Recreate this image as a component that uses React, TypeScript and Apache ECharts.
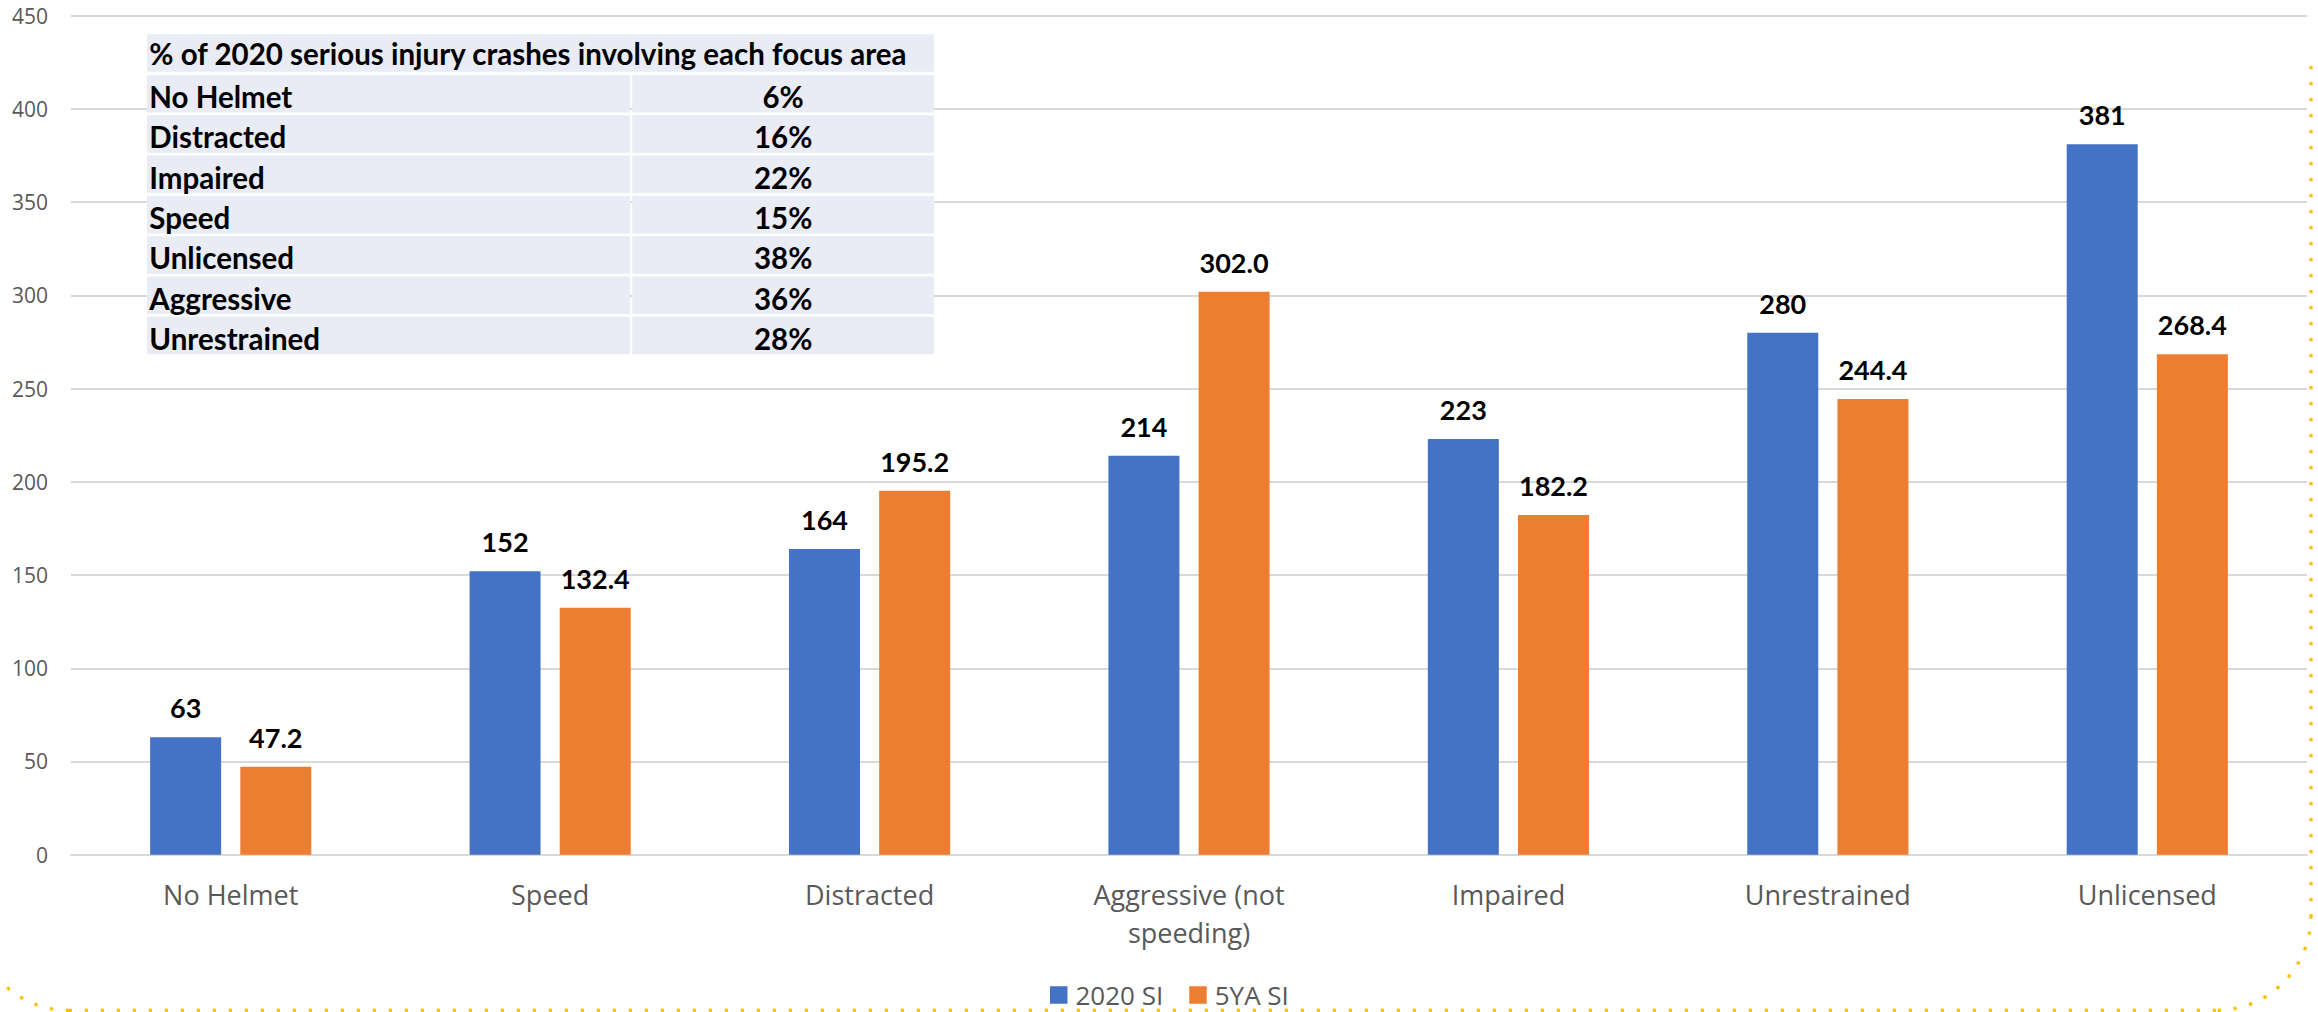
import React, { useEffect, useRef } from "react";
import * as echarts from "echarts";

// ---- data ----
const categories = [
  "No Helmet",
  "Speed",
  "Distracted",
  "Aggressive (not speeding)",
  "Impaired",
  "Unrestrained",
  "Unlicensed",
];
const si2020 = [63, 152, 164, 214, 223, 280, 381];
const si5ya = [47.2, 132.4, 195.2, 302.0, 182.2, 244.4, 268.4];
const seriesNames = ["2020 SI", "5YA SI"];
const yMin = 0;
const yMax = 450;
const yInterval = 50;

const tableTitle = "% of 2020 serious injury crashes involving each focus area";
const tableAreas = ["No Helmet", "Distracted", "Impaired", "Speed", "Unlicensed", "Aggressive", "Unrestrained"];
const tableShares = [6, 16, 22, 15, 38, 36, 28];

// ---- style ----
const BLUE = "#4472C4";
const ORANGE = "#ED7D31";
const GRID = "#D9D9D9";
const AXIS_TEXT = "#595959";
const CELL = "#E9EBF5";
const GOLD = "#FFC000";
const TABLE_FONT = 29.5;

function buildTable(): any[] {
  const els: any[] = [];
  const left = 147;
  const right = 934;
  const divL = 630;
  const divR = 632.3;
  const headTop = 34.3;
  const rowH = 37.5;
  const pitch = 40.3;
  const txt = (text: string, x: number, y: number, align: string) => ({
    type: "text",
    z: 101,
    x,
    y,
    style: {
      text,
      fontFamily: "Lato",
      fontWeight: "bold",
      fontSize: TABLE_FONT,
      fill: "#000",
      align,
      verticalAlign: "middle",
    },
  });
  els.push({
    type: "rect",
    z: 100,
    shape: { x: left, y: headTop, width: right - left, height: rowH },
    style: { fill: CELL },
  });
  els.push(txt(tableTitle, left + 2.3, headTop + 19, "left"));
  tableAreas.forEach((area, i) => {
    const top = 75 + i * pitch;
    els.push({
      type: "rect",
      z: 100,
      shape: { x: left, y: top, width: divL - left, height: rowH },
      style: { fill: CELL },
    });
    els.push({
      type: "rect",
      z: 100,
      shape: { x: divR, y: top, width: right - divR, height: rowH },
      style: { fill: CELL },
    });
    els.push(txt(area, left + 2.3, top + 21.5, "left"));
    els.push(txt(tableShares[i] + "%", (divR + right) / 2, top + 21.5, "center"));
  });
  return els;
}

function buildBorder(): any[] {
  const st = {
    stroke: GOLD,
    fill: null,
    lineWidth: 3.3,
    lineDash: [3.3, 12.7],
    lineCap: "butt",
  };
  const xR = 2311;
  const yB = 1010.5;
  const r = 95;
  return [
    { type: "line", z: 50, shape: { x1: xR, y1: 66, x2: xR, y2: yB - r }, style: st },
    {
      type: "arc",
      z: 50,
      shape: { cx: xR - r, cy: yB - r, r, startAngle: 0, endAngle: Math.PI / 2, clockwise: true },
      style: st,
    },
    { type: "line", z: 50, shape: { x1: xR - r, y1: yB, x2: 69, y2: yB }, style: st },
    {
      type: "arc",
      z: 50,
      shape: { cx: 69, cy: yB - r, r, startAngle: Math.PI / 2, endAngle: Math.PI, clockwise: true },
      style: st,
    },
  ];
}

const labelStyle = {
  show: true,
  position: "top",
  distance: 16,
  fontFamily: "Lato",
  fontWeight: "bold",
  fontSize: 27,
  color: "#000",
};

const option: any = {
  animation: false,
  backgroundColor: "#fff",
  grid: { left: 71, right: 11, top: 15.7, bottom: 157.3, containLabel: false },
  legend: {
    data: seriesNames,
    left: 1045,
    top: 977,
    icon: "rect",
    itemWidth: 17.5,
    itemHeight: 17.5,
    itemGap: 26,
    textStyle: {
      fontFamily: "Open Sans",
      fontSize: 26,
      color: AXIS_TEXT,
      padding: [0, 0, 0, 3],
    },
  },
  xAxis: {
    type: "category",
    data: categories,
    axisTick: { show: false },
    axisLine: { show: true, lineStyle: { color: GRID, width: 2 } },
    axisLabel: {
      interval: 0,
      margin: 21,
      fontFamily: "Open Sans",
      fontSize: 27,
      lineHeight: 38,
      color: AXIS_TEXT,
      formatter: (v: string) => v.replace("(not ", "(not\n"),
    },
  },
  yAxis: {
    type: "value",
    min: yMin,
    max: yMax,
    interval: yInterval,
    axisLine: { show: false },
    axisTick: { show: false },
    splitLine: { lineStyle: { color: GRID, width: 2 } },
    axisLabel: {
      margin: 23,
      fontFamily: "Open Sans",
      fontSize: 21,
      color: AXIS_TEXT,
    },
  },
  series: [
    {
      name: seriesNames[0],
      type: "bar",
      data: si2020,
      barWidth: 71,
      barGap: "27%",
      itemStyle: { color: BLUE },
      label: { ...labelStyle, formatter: (p: any) => String(p.value) },
    },
    {
      name: seriesNames[1],
      type: "bar",
      data: si5ya,
      barWidth: 71,
      barGap: "27%",
      itemStyle: { color: ORANGE },
      label: { ...labelStyle, formatter: (p: any) => Number(p.value).toFixed(1) },
    },
  ],
  graphic: [...buildBorder(), ...buildTable()],
};

export default function App() {
  const ref = useRef<HTMLDivElement>(null);
  useEffect(() => {
    document.body.style.margin = "0";
    const chart = echarts.init(ref.current!, null, { renderer: "svg" });
    chart.setOption(option);
    return () => chart.dispose();
  }, []);
  return <div ref={ref} style={{ width: 2318, height: 1012 }} />;
}
